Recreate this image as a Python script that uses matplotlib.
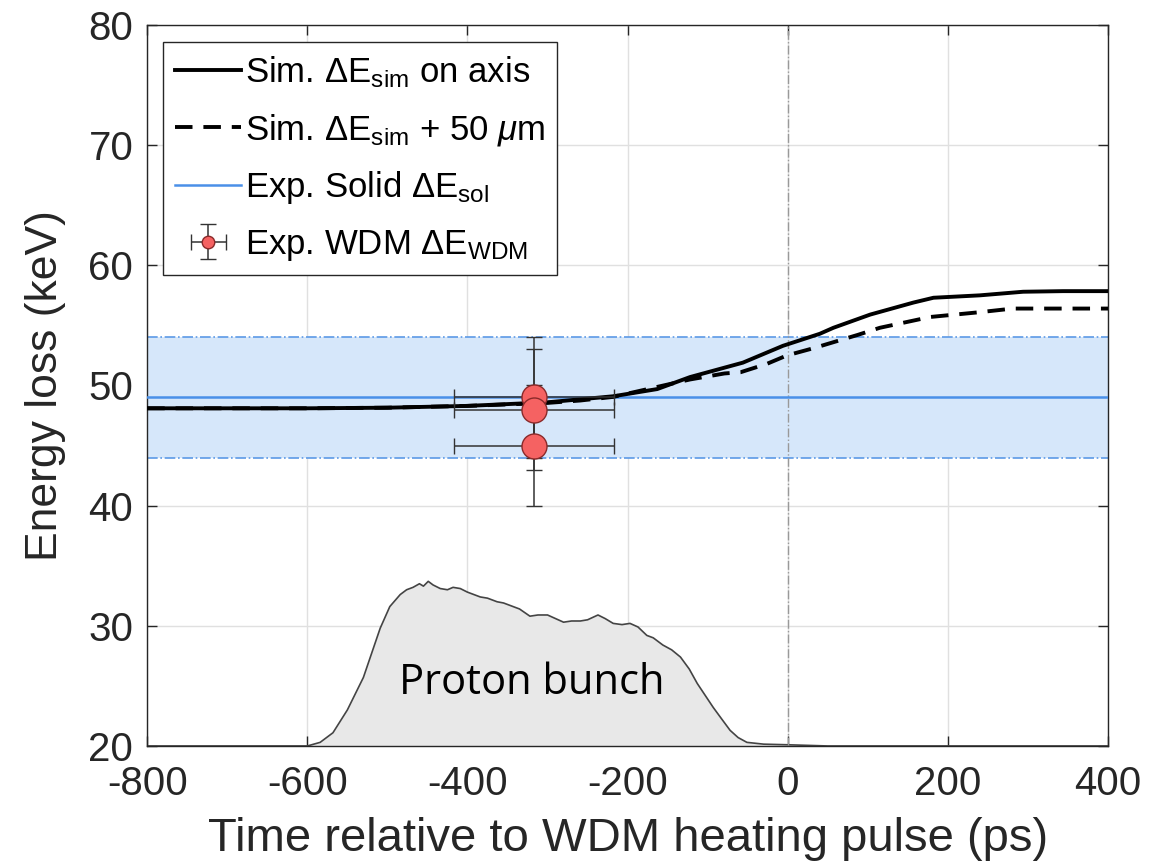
import numpy as np
import matplotlib.pyplot as plt

plt.rcParams['font.family'] = ['Liberation Sans', 'DejaVu Sans']
plt.rcParams['mathtext.fontset'] = 'custom'
plt.rcParams['mathtext.rm'] = 'Liberation Sans'
plt.rcParams['mathtext.it'] = 'Liberation Sans:italic'
plt.rcParams['axes.unicode_minus'] = False

# simulated energy loss, on axis
t_sim = [-800, -600, -500, -400, -300, -259, -218, -163, -122, -56, -6, 40, 57, 103, 157, 182, 240, 294, 344, 400]
e_sim = [48.1, 48.1, 48.15, 48.3, 48.6, 48.85, 49.1, 49.7, 50.7, 51.9, 53.3, 54.3, 54.8, 55.9, 56.9, 57.3, 57.5, 57.8, 57.85, 57.85]

# simulated energy loss, +50 um
t_sim50 = [-800, -600, -500, -400, -300, -259, -218, -122, -79, -59, -26, -1, 32, 87, 115, 157, 178, 240, 281, 344, 400]
e_sim50 = [48.1, 48.1, 48.15, 48.3, 48.55, 48.75, 49.05, 50.5, 51.0, 51.1, 51.8, 52.5, 53.1, 54.2, 54.8, 55.4, 55.7, 56.1, 56.4, 56.4, 56.4]

# experimental solid
e_sol = 49
e_sol_lo = 44
e_sol_hi = 54

# experimental WDM points
t_wdm = [-317, -317, -317]
e_wdm = [49, 48, 45]
t_err = [100, 100, 100]
e_err = [5, 5, 5]

# proton bunch profile (drawn on energy axis, baseline 20)
t_bunch = [-800, -600, -584, -568, -550, -530, -509, -497, -484, -476, -468, -460, -455, -449,
           -443, -434, -425, -418, -409, -400, -392, -384, -375, -363, -355, -343, -335, -322,
           -312, -300, -290, -280, -270, -259, -250, -237, -228, -218, -207, -197, -187, -176,
           -168, -156, -145, -134, -123, -113, -103, -93, -82, -72, -62, -51, -30, 0, 50, 400]
e_bunch = [20, 20, 20.3, 21.1, 23, 25.7, 29.8, 31.6, 32.6, 33.0, 33.2, 33.5, 33.3, 33.7,
           33.4, 33.1, 33.0, 33.2, 33.1, 32.8, 32.6, 32.4, 32.3, 32.0, 31.9, 31.6, 31.4, 30.8,
           30.9, 30.9, 30.6, 30.3, 30.4, 30.4, 30.5, 30.9, 30.6, 30.2, 30.1, 30.2, 29.9, 29.2,
           29.0, 28.4, 28.0, 27.4, 26.4, 25.2, 24.2, 23.2, 22.2, 21.3, 20.7, 20.3, 20.15, 20.1, 20.0, 20.0]

fig = plt.figure(figsize=(11.5, 8.67), dpi=100)
ax = fig.add_axes([0.128, 0.1396, 0.8355, 0.8316])

# proton bunch
ax.fill_between(t_bunch, 20, e_bunch, color='#e8e8e8', lw=0, zorder=1)
ax.plot(t_bunch, e_bunch, color='#444444', lw=1.2, zorder=2)
ax.text(-486, 25.2, 'Proton bunch', fontsize=30, family=['Open Sans', 'DejaVu Sans'],
        ha='left', va='center', zorder=3)

# solid band
ax.axhspan(e_sol_lo, e_sol_hi, color='#d6e7fa', lw=0, zorder=1)
ax.axhline(e_sol_lo, color='#5c9ae6', lw=1.2, ls='-.', zorder=2)
ax.axhline(e_sol_hi, color='#5c9ae6', lw=1.2, ls='-.', zorder=2)
ax.axvline(0, color='#999999', lw=1.0, ls='-.', zorder=2)

ax.plot(t_sim, e_sim, color='black', lw=2.8, label=r'Sim. $\Delta$E$_{\rm sim}$ on axis', zorder=4)
ax.plot(t_sim50, e_sim50, color='black', lw=2.8, ls=(0, (4.5, 2.8)),
        label=r'Sim. $\Delta$E$_{\rm sim}$ + 50 $\mu$m', zorder=4)
ax.axhline(e_sol, color='#4a90e8', lw=1.8, label=r'Exp. Solid $\Delta$E$_{\rm sol}$', zorder=3)

ax.errorbar(t_wdm, e_wdm, xerr=t_err, yerr=e_err, fmt='o', color='#333333', ecolor='#333333',
            elinewidth=1.1, capsize=6, capthick=1.1, markersize=18, markerfacecolor='#f56262',
            markeredgecolor='#8a2a2a', markeredgewidth=1.0, label=r'Exp. WDM $\Delta$E$_{\rm WDM}$', zorder=5)

ax.set_xlim(-800, 400)
ax.set_ylim(20, 80)
ax.set_xticks(np.arange(-800, 401, 200))
ax.set_yticks(np.arange(20, 81, 10))
ax.grid(True, color='#e0e0e0', lw=1.0, zorder=0)
ax.set_axisbelow(True)
ax.tick_params(direction='in', length=7, width=1, top=True, right=True, labelsize=29, colors='#262626')
ax.tick_params(axis='x', pad=14)
ax.tick_params(axis='y', pad=10)
for s in ax.spines.values():
    s.set_color('#262626')
    s.set_linewidth(1.0)

ax.set_xlabel('Time relative to WDM heating pulse (ps)', fontsize=34, color='#262626', labelpad=10)
ax.set_ylabel('Energy loss (keV)', fontsize=32, color='#262626', labelpad=16)

leg = ax.legend(loc='upper left', bbox_to_anchor=(0.0166, 0.976), fontsize=25, handlelength=1.9,
                handletextpad=0.1, labelspacing=0.62, borderpad=0.35, borderaxespad=0, fancybox=False,
                framealpha=1, edgecolor='#262626', markerscale=0.5)
leg.get_frame().set_linewidth(1.0)

fig.savefig('out.png', dpi=100)
